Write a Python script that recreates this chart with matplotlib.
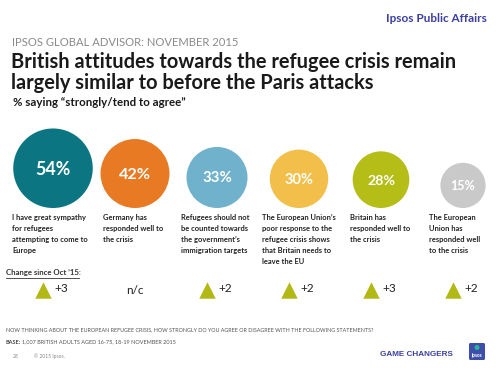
import numpy as np
import matplotlib.pyplot as plt
from matplotlib.patches import Circle, FancyBboxPatch

# ---------------------------
# Data
# ---------------------------
values = [54, 42, 33, 30, 28, 15]
labels = [
    "I have great sympathy\nfor refugees\nattempting to come to\nEurope",
    "Germany has\nresponded well to\nthe crisis",
    "Refugees should not\nbe counted towards\nthe government\u2019s\nimmigration targets",
    "The European Union\u2019s\npoor response to the\nrefugee crisis shows\nthat Britain needs to\nleave the EU",
    "Britain has\nresponded well to\nthe crisis",
    "The European\nUnion has\nresponded well\nto the crisis",
]
changes = ["+3", "n/c", "+2", "+2", "+3", "+2"]
colors = ["#0b7682", "#e87a24", "#70b2cc", "#f2bf4a", "#b5bd17", "#c9c9c9"]

plt.rcParams["font.family"] = ["Lato", "DejaVu Sans"]

fig = plt.figure(figsize=(5, 3.75), dpi=100)
ax = fig.add_axes([0, 0, 1, 1])
ax.set_xlim(0, 500)
ax.set_ylim(375, 0)
ax.set_aspect("equal")
ax.axis("off")

# ---------------------------
# Header
# ---------------------------
ax.text(487, 18, "Ipsos Public Affairs", ha="right", va="center",
        fontsize=8.5, fontweight="bold", color="#3b3f9e")
ax.text(12, 43, "IPSOS GLOBAL ADVISOR: NOVEMBER 2015", ha="left", va="center",
        fontsize=8.1, color="#8a8a8a")
ax.text(11, 62, "British attitudes towards the refugee crisis remain",
        ha="left", va="center", fontsize=14.4, fontweight="bold", color="#1a1a1a")
ax.text(11, 83, "largely similar to before the Paris attacks",
        ha="left", va="center", fontsize=14.4, fontweight="bold", color="#1a1a1a")
ax.text(13, 102, "% saying \u201cstrongly/tend to agree\u201d", ha="left", va="center",
        fontsize=8.3, fontweight="bold", color="#1a1a1a")

# ---------------------------
# Bubbles
# ---------------------------
x0, step = 53, 82
base = 208
label_left = [12, 103, 181, 262, 350, 429]

for i, v in enumerate(values):
    cx = x0 + step * i
    r = 16 + 0.44 * v
    cy = base - r
    ax.add_patch(Circle((cx, cy), r, color=colors[i], lw=0))
    ax.text(cx, cy + 1, f"{v}%", ha="center", va="center",
            fontsize=7.5 + v / 10, fontweight="bold", color="white")
    ax.text(label_left[i], 214, labels[i], ha="left", va="top",
            fontsize=5.4, fontweight="bold", color="#222222", linespacing=1.65)

    # change since Oct '15
    if changes[i] == "n/c":
        ax.text(cx, 290, "n/c", ha="center", va="center", fontsize=8.5, color="#222222")
    else:
        ax.scatter(cx - 10, 290, marker="^", s=140, color="#b2b814", lw=0)
        ax.text(cx + 1, 289, changes[i], ha="left", va="center",
                fontsize=8.5, color="#222222")

ax.text(6, 273, "Change since Oct \u201915:", ha="left", va="center",
        fontsize=5.6, fontweight="bold", color="#333333")
ax.plot([6, 79], [277.5, 277.5], color="#333333", lw=0.6)

# ---------------------------
# Footer
# ---------------------------
ax.text(6, 330, "NOW THINKING ABOUT THE EUROPEAN REFUGEE CRISIS, HOW STRONGLY DO YOU AGREE OR DISAGREE WITH THE FOLLOWING STATEMENTS?",
        ha="left", va="center", fontsize=3.85, color="#555555")
ax.text(6, 342, "BASE:", ha="left", va="center", fontsize=4,
        fontweight="bold", color="#444444")
ax.text(22, 342, "1,007 BRITISH ADULTS AGED 16-75, 18-19 NOVEMBER 2015",
        ha="left", va="center", fontsize=4, color="#555555")
ax.text(13, 356, "28", ha="left", va="center", fontsize=3.6, color="#888888")
ax.text(34, 356, "\u00a9 2015 Ipsos.", ha="left", va="center", fontsize=3.6, color="#888888")
ax.text(453, 355, "GAME CHANGERS", ha="right", va="center", fontsize=5.9,
        fontweight="bold", color="#3b3f9e", family=["Liberation Sans", "DejaVu Sans"])
ax.add_patch(FancyBboxPatch((469, 343), 16, 17, boxstyle="round,pad=0,rounding_size=1.5",
                            color="#3d4fa8", lw=0))
ax.add_patch(Circle((477, 347.5), 2.5, color="#2bb39a", lw=0))
ax.text(477, 355, "Ipsos", ha="center", va="center", fontsize=3.3,
        fontweight="bold", color="white")

fig.savefig("out.png", dpi=100)
plt.close()
